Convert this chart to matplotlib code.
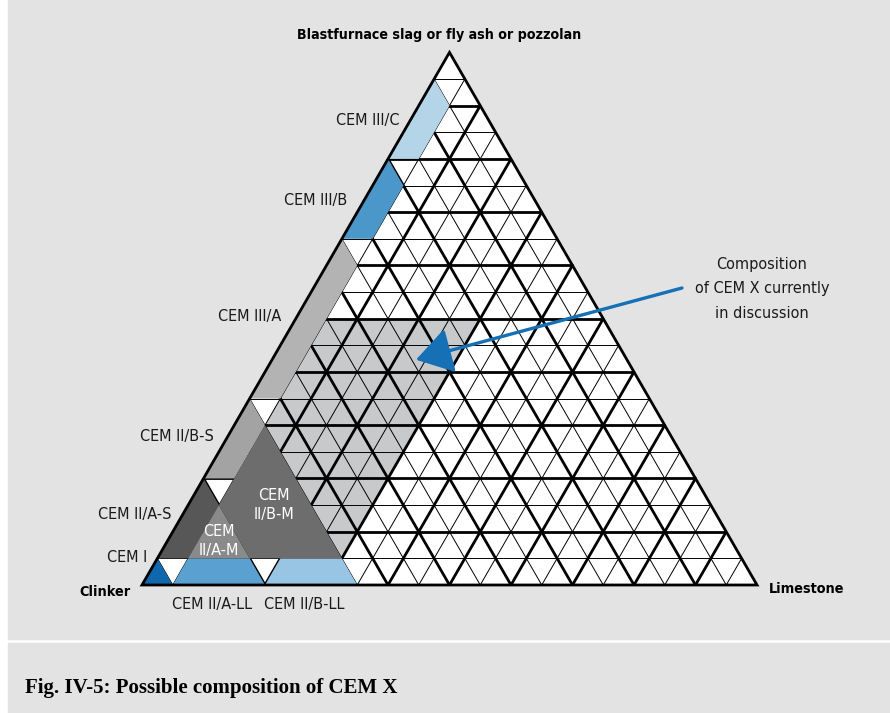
import numpy as np
import matplotlib
matplotlib.use("Agg")
import matplotlib.pyplot as plt
from matplotlib import font_manager as fm
from matplotlib.patches import Polygon, Rectangle, FancyArrowPatch

# ── DATA ──────────────────────────────────────────────────────────────────────
# Region corners as (limestone %, slag / fly ash / pozzolan %); clinker = rest.
cem_i      = [(0, 0), (5, 0), (0, 5)]
cem_iia_ll = [(5, 0), (20, 0), (15, 5), (5, 5)]
cem_iib_ll = [(20, 0), (35, 0), (30, 5), (20, 5)]
cem_iia_s  = [(0, 5), (5, 5), (5, 15), (0, 20)]
cem_iib_s  = [(0, 20), (5, 20), (5, 30), (0, 35)]
cem_iiia   = [(0, 35), (5, 35), (5, 60), (0, 65)]
cem_iiib   = [(0, 65), (5, 65), (5, 75), (0, 80)]
cem_iiic   = [(0, 80), (5, 80), (5, 90), (0, 95)]
cem_iia_m  = [(5, 5), (15, 5), (5, 15)]
cem_iib_m  = [(15, 5), (30, 5), (5, 30), (5, 15)]
cem_x      = [(5, 5), (30, 5), (30, 50), (5, 50)]

grid_step  = 5          # thin lines every 5 %, thick every 10 %
arrow_tip  = (23.4, 42.3)   # composition the arrow points at (limestone, slag)

# ── STYLE ─────────────────────────────────────────────────────────────────────
BG = "#e2e3e2"
W, H = 890, 713
SCALE = 6.15            # pixels per % along the base
X0, Y0 = 142, 585       # pixel position of the clinker corner

# look for a narrow sans face (reference uses a condensed grotesque)
def find_narrow(bold=False):
    for f in fm.fontManager.ttflist:
        name = f.name + " " + f.fname
        narrow = ("Narrow" in name or "Condensed" in name
                  or f.stretch in ("condensed", "semi-condensed"))
        is_bold = f.weight in ("bold", 700) or (isinstance(f.weight, int) and f.weight >= 600)
        if narrow and is_bold == bold and "Oblique" not in name and "Italic" not in name:
            if any(k in f.name for k in ("Liberation Sans", "DejaVu Sans", "Roboto", "Noto Sans", "Open Sans")):
                return fm.FontProperties(fname=f.fname)
    return None

REG = find_narrow(False)
BLD = find_narrow(True)
if REG is None:
    REG = fm.FontProperties(family="Roboto")
    BLD = fm.FontProperties(family="Roboto", weight="bold")
    SIZE, BSIZE, TSIZE = 10.3, 10.0, 9.6
else:
    if BLD is None:
        BLD = REG.copy()
        BLD.set_weight("bold")
    SIZE, BSIZE, TSIZE = 11.6, 10.4, 10.2

fills = [
    (cem_i,      "#0f67ad"),
    (cem_iia_ll, "#5aa1d1"),
    (cem_iib_ll, "#98c5e3"),
    (cem_iia_s,  "#575757"),
    (cem_iib_s,  "#a3a3a3"),
    (cem_iiia,   "#b3b3b3"),
    (cem_iiib,   "#4b97c9"),
    (cem_iiic,   "#b4d4e8"),
    (cem_iib_m,  "#6d6d6d"),
    (cem_iia_m,  "#8a8a8a"),
]


def tern(l, s):
    """(limestone, slag) -> cartesian, clinker corner at origin."""
    return l + s / 2.0, s * np.sqrt(3) / 2.0


def fig_xy(px, py):
    return px / W, 1 - py / H


def label(px, py, txt, bold=False, size=None, **kw):
    fp = (BLD if bold else REG).copy()
    fp.set_size(size or (BSIZE if bold else SIZE))
    fig.text(*fig_xy(px, py), txt, fontproperties=fp, ha="center", va="center", **kw)


fig = plt.figure(figsize=(W / 100, H / 100), dpi=100)
fig.patch.set_facecolor("white")
ax = fig.add_axes([0, 0, 1, 1])
ax.set_xlim(-X0 / SCALE, (W - X0) / SCALE)
ax.set_ylim(-(H - Y0) / SCALE, Y0 / SCALE)
ax.axis("off")

# background panels
ax.add_patch(Rectangle(fig_xy(8, 639), (W - 8) / W, 639 / H,
                       transform=fig.transFigure, color=BG, zorder=0))
ax.add_patch(Rectangle(fig_xy(8, H), (W - 8) / W, (H - 643) / H,
                       transform=fig.transFigure, color=BG, zorder=0))

# white triangle
corners = [tern(0, 0), tern(100, 0), tern(0, 100)]
ax.add_patch(Polygon(corners, closed=True, facecolor="white", edgecolor="none", zorder=1))

# CEM X area (under the grid)
ax.add_patch(Polygon([tern(l, s) for l, s in cem_x], closed=True,
                     facecolor="#c8c9cb", edgecolor="none", zorder=1.5))

# grid
for k in range(grid_step, 100, grid_step):
    lw = 2.0 if k % 10 == 0 else 0.7
    segs = [
        (tern(0, k), tern(100 - k, k)),        # constant slag
        (tern(k, 0), tern(k, 100 - k)),        # constant limestone
        (tern(100 - k, 0), tern(0, 100 - k)),  # constant clinker
    ]
    for a, b in segs:
        ax.plot([a[0], b[0]], [a[1], b[1]], color="black", lw=lw,
                solid_capstyle="butt", zorder=2)

# cement type areas
for verts, col in fills:
    ax.add_patch(Polygon([tern(l, s) for l, s in verts], closed=True,
                         facecolor=col, edgecolor="none", zorder=3))

# outline
ax.add_patch(Polygon(corners, closed=True, facecolor="none", edgecolor="black",
                     lw=2.0, joinstyle="miter", zorder=4))

# arrow
tail = ((682 - X0) / SCALE, (Y0 - 288) / SCALE)
ax.add_patch(FancyArrowPatch(tail, tern(*arrow_tip),
                             arrowstyle="-|>,head_length=1.1,head_width=0.7",
                             mutation_scale=20, lw=2.4, color="#1570b5",
                             shrinkA=0, shrinkB=0, zorder=5))

# ── TEXT ──────────────────────────────────────────────────────────────────────
label(439, 35, "Blastfurnace slag or fly ash or pozzolan", bold=True, size=TSIZE)
label(105, 592, "Clinker", bold=True)
label(807, 589, "Limestone", bold=True)

labels = [
    ("CEM III/C", 368, 120), ("CEM III/B", 316, 200), ("CEM III/A", 250, 317),
    ("CEM II/B-S", 177, 436), ("CEM II/A-S", 135, 515), ("CEM I", 127, 557),
    ("CEM II/A-LL", 212, 604), ("CEM II/B-LL", 304, 604),
]
for txt, px, py in labels:
    label(px, py, txt, color="#1a1a1a")

label(274, 505, "CEM\nII/B-M", color="white", linespacing=1.35)
label(219, 541, "CEM\nII/A-M", color="white", linespacing=1.35)
label(762, 289, "Composition\nof CEM X currently\nin discussion",
      color="#1a1a1a", linespacing=1.75)

fig.text(*fig_xy(25, 688), "Fig. IV-5: Possible composition of CEM X",
         family=["Liberation Serif", "DejaVu Serif"], fontsize=15,
         fontweight="bold", ha="left", va="center")

fig.savefig("out.png", dpi=100, facecolor=fig.get_facecolor())
